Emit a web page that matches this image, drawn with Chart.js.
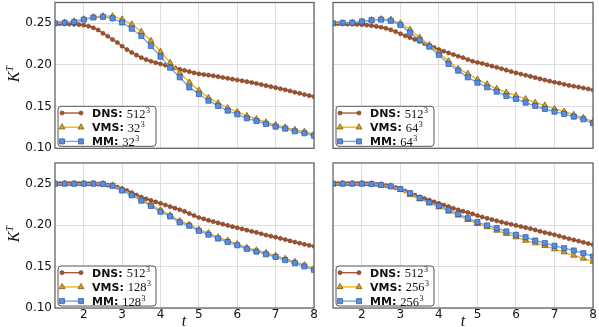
<!DOCTYPE html>
<html>
<head>
<meta charset="utf-8">
<script src="https://cdn.jsdelivr.net/npm/chart.js@4.4.0/dist/chart.umd.min.js"></script>
<style>
  html, body { margin: 0; padding: 0; background: #fff; }
  #wrap { position: relative; width: 599px; height: 327px; overflow: hidden; }
  #wrap canvas { position: absolute; left: -20px; top: -20px; }
  .ylab, .xlab {
    position: absolute;
    font-family: "Liberation Serif", "DejaVu Serif", serif;
    font-style: italic;
    font-size: 16px;
    color: #111;
    text-align: center;
  }
  .ylab { width: 40px; height: 20px; line-height: 20px; transform: rotate(-90deg); }
  .ylab sup, .xlab sup { font-size: 10px; vertical-align: 6px; }
  .xlab { width: 20px; height: 16px; line-height: 16px; }
</style>
</head>
<body>
<div id="wrap">
  <canvas id="panelTL" width="639" height="367"></canvas>
  <canvas id="panelTR" width="639" height="367"></canvas>
  <canvas id="panelBL" width="639" height="367"></canvas>
  <canvas id="panelBR" width="639" height="367"></canvas>
  <div class="ylab" style="left:-10px; top:64px;">K<sup>T</sup></div>
  <div class="ylab" style="left:-10px; top:224px;">K<sup>T</sup></div>
  <div class="xlab" style="left:174px; top:313px;">t</div>
  <div class="xlab" style="left:453px; top:313px;">t</div>
</div>
<script>
// time samples (DNS is stored twice as dense as the LES runs)
const tFine = [1.25, 1.375, 1.5, 1.625, 1.75, 1.875, 2, 2.125, 2.25, 2.375,
  2.5, 2.625, 2.75, 2.875, 3, 3.125, 3.25, 3.375, 3.5, 3.625,
  3.75, 3.875, 4, 4.125, 4.25, 4.375, 4.5, 4.625, 4.75, 4.875,
  5, 5.125, 5.25, 5.375, 5.5, 5.625, 5.75, 5.875, 6, 6.125,
  6.25, 6.375, 6.5, 6.625, 6.75, 6.875, 7, 7.125, 7.25, 7.375,
  7.5, 7.625, 7.75, 7.875, 8];
const tCoarse = [1.25, 1.5, 1.75, 2, 2.25, 2.5, 2.75, 3, 3.25, 3.5,
  3.75, 4, 4.25, 4.5, 4.75, 5, 5.25, 5.5, 5.75, 6,
  6.25, 6.5, 6.75, 7, 7.25, 7.5, 7.75, 8];

const xTicks = [2, 3, 4, 5, 6, 7, 8];
const yTicks = [0.10, 0.15, 0.20, 0.25];

// top left: 32^3
const dnsTL = [0.2500, 0.2497, 0.2494, 0.2491, 0.2488, 0.2484, 0.2478, 0.2465, 0.2446, 0.2420,
  0.2380, 0.2345, 0.2305, 0.2270, 0.2225, 0.2185, 0.2150, 0.2118, 0.2088, 0.2065,
  0.2045, 0.2027, 0.2012, 0.1998, 0.1985, 0.1965, 0.1948, 0.1935, 0.1920, 0.1905,
  0.1893, 0.1885, 0.1878, 0.1870, 0.1860, 0.1850, 0.1840, 0.1830, 0.1820, 0.1810,
  0.1800, 0.1790, 0.1778, 0.1765, 0.1752, 0.1740, 0.1728, 0.1715, 0.1702, 0.1688,
  0.1673, 0.1660, 0.1645, 0.1632, 0.1620];
const vmsTL = [0.2502, 0.2510, 0.2525, 0.2550, 0.2575, 0.2588, 0.2586, 0.2548, 0.2488, 0.2400,
  0.2291, 0.2160, 0.2027, 0.1907, 0.1792, 0.1695, 0.1606, 0.1543, 0.1484, 0.1438,
  0.1390, 0.1352, 0.1313, 0.1282, 0.1252, 0.1224, 0.1200, 0.1172];
const mmTL = [0.2500, 0.2507, 0.2516, 0.2545, 0.2570, 0.2578, 0.2560, 0.2510, 0.2435, 0.2348,
  0.2228, 0.2100, 0.1967, 0.1852, 0.1731, 0.1652, 0.1571, 0.1508, 0.1452, 0.1408,
  0.1360, 0.1328, 0.1292, 0.1260, 0.1236, 0.1204, 0.1180, 0.1151];

// top right: 64^3
const dnsTR = [0.2500, 0.2497, 0.2494, 0.2491, 0.2489, 0.2487, 0.2484, 0.2479, 0.2472, 0.2463,
  0.2453, 0.2440, 0.2422, 0.2400, 0.2375, 0.2350, 0.2328, 0.2307, 0.2283, 0.2257,
  0.2233, 0.2210, 0.2185, 0.2165, 0.2145, 0.2125, 0.2105, 0.2088, 0.2065, 0.2045,
  0.2030, 0.2018, 0.2002, 0.1987, 0.1972, 0.1955, 0.1938, 0.1921, 0.1905, 0.1891,
  0.1877, 0.1863, 0.1848, 0.1833, 0.1820, 0.1806, 0.1793, 0.1782, 0.1768, 0.1755,
  0.1745, 0.1735, 0.1724, 0.1712, 0.1700];
const vmsTR = [0.2500, 0.2503, 0.2508, 0.2522, 0.2540, 0.2550, 0.2545, 0.2500, 0.2425, 0.2330,
  0.2240, 0.2150, 0.2045, 0.1955, 0.1895, 0.1826, 0.1770, 0.1714, 0.1670, 0.1632,
  0.1592, 0.1548, 0.1516, 0.1474, 0.1442, 0.1404, 0.1366, 0.1322];
const mmTR = [0.2500, 0.2506, 0.2508, 0.2522, 0.2538, 0.2545, 0.2530, 0.2480, 0.2388, 0.2300,
  0.2220, 0.2120, 0.2012, 0.1932, 0.1852, 0.1788, 0.1732, 0.1680, 0.1628, 0.1592,
  0.1548, 0.1508, 0.1472, 0.1440, 0.1412, 0.1380, 0.1348, 0.1300];

// bottom left: 128^3
const dnsBL = [0.2500, 0.2500, 0.2500, 0.2500, 0.2500, 0.2500, 0.2500, 0.2499, 0.2498, 0.2495,
  0.2490, 0.2483, 0.2472, 0.2458, 0.2440, 0.2417, 0.2390, 0.2363, 0.2338, 0.2318,
  0.2298, 0.2280, 0.2263, 0.2243, 0.2223, 0.2205, 0.2186, 0.2165, 0.2140, 0.2115,
  0.2092, 0.2075, 0.2058, 0.2042, 0.2027, 0.2012, 0.1996, 0.1982, 0.1968, 0.1954,
  0.1939, 0.1925, 0.1912, 0.1896, 0.1880, 0.1867, 0.1855, 0.1840, 0.1826, 0.1810,
  0.1796, 0.1782, 0.1768, 0.1756, 0.1744];
const vmsBL = [0.2500, 0.2500, 0.2500, 0.2500, 0.2500, 0.2498, 0.2480, 0.2430, 0.2375, 0.2312,
  0.2250, 0.2180, 0.2120, 0.2050, 0.2008, 0.1948, 0.1904, 0.1854, 0.1814, 0.1773,
  0.1727, 0.1697, 0.1667, 0.1632, 0.1595, 0.1558, 0.1518, 0.1478];
const mmBL = [0.2500, 0.2500, 0.2500, 0.2500, 0.2500, 0.2496, 0.2475, 0.2418, 0.2360, 0.2295,
  0.2232, 0.2162, 0.2105, 0.2033, 0.1992, 0.1930, 0.1885, 0.1838, 0.1796, 0.1757,
  0.1712, 0.1680, 0.1648, 0.1616, 0.1578, 0.1542, 0.1502, 0.1460];

// bottom right: 256^3
const dnsBR = [0.2500, 0.2500, 0.2500, 0.2500, 0.2500, 0.2500, 0.2500, 0.2499, 0.2497, 0.2492,
  0.2485, 0.2477, 0.2466, 0.2452, 0.2435, 0.2412, 0.2388, 0.2362, 0.2340, 0.2321,
  0.2302, 0.2282, 0.2262, 0.2243, 0.2224, 0.2204, 0.2185, 0.2168, 0.2152, 0.2135,
  0.2115, 0.2098, 0.2082, 0.2067, 0.2052, 0.2037, 0.2023, 0.2010, 0.1997, 0.1983,
  0.1970, 0.1957, 0.1942, 0.1925, 0.1910, 0.1897, 0.1884, 0.1868, 0.1852, 0.1836,
  0.1822, 0.1808, 0.1793, 0.1778, 0.1763];
const vmsBR = [0.2500, 0.2500, 0.2500, 0.2500, 0.2496, 0.2484, 0.2468, 0.2427, 0.2367, 0.2315,
  0.2267, 0.2218, 0.2166, 0.2118, 0.2065, 0.2017, 0.1977, 0.1936, 0.1896, 0.1856,
  0.1815, 0.1783, 0.1751, 0.1711, 0.1674, 0.1634, 0.1598, 0.1561];
const mmBR = [0.2500, 0.2500, 0.2500, 0.2500, 0.2496, 0.2484, 0.2468, 0.2436, 0.2387, 0.2327,
  0.2274, 0.2234, 0.2186, 0.2134, 0.2085, 0.2037, 0.1997, 0.1964, 0.1924, 0.1884,
  0.1855, 0.1815, 0.1783, 0.1751, 0.1722, 0.1694, 0.1662, 0.1621];

const legendNames = ["DNS", "VMS", "MM"];

const GRID = "#dedede";
const FRAME = "#666";
// canvases are bigger than the page and shifted by this much, so the
// axes never get squeezed by chart.js' own label overflow padding
const OFF = 20;
const CW = 639;
const CH = 367;

const pts = (ts, ys) => ts.map((t, i) => ({ x: t, y: ys[i] }));

// box around the plot area, like the matplotlib axes frame
const framePlugin = {
  id: "frame",
  afterDraw(chart) {
    const a = chart.chartArea;
    const ctx = chart.ctx;
    ctx.save();
    ctx.strokeStyle = FRAME;
    ctx.lineWidth = 1.3;
    ctx.strokeRect(a.left, a.top, a.right - a.left, a.bottom - a.top);
    ctx.restore();
  },
};

// legend box in the lower left corner of each panel
const legendPlugin = {
  id: "panelLegend",
  afterDatasetsDraw(chart, args, opts) {
    const a = chart.chartArea;
    const ctx = chart.ctx;
    const w = 98;
    const h = 40;
    const x0 = a.left + 3;
    const y0 = a.bottom - 2 - h;
    const r = 3;

    ctx.save();
    ctx.beginPath();
    ctx.moveTo(x0 + r, y0);
    ctx.lineTo(x0 + w - r, y0);
    ctx.quadraticCurveTo(x0 + w, y0, x0 + w, y0 + r);
    ctx.lineTo(x0 + w, y0 + h - r);
    ctx.quadraticCurveTo(x0 + w, y0 + h, x0 + w - r, y0 + h);
    ctx.lineTo(x0 + r, y0 + h);
    ctx.quadraticCurveTo(x0, y0 + h, x0, y0 + h - r);
    ctx.lineTo(x0, y0 + r);
    ctx.quadraticCurveTo(x0, y0, x0 + r, y0);
    ctx.closePath();
    ctx.fillStyle = "rgba(255,255,255,0.92)";
    ctx.fill();
    ctx.strokeStyle = "#555";
    ctx.lineWidth = 1;
    ctx.stroke();

    chart.data.datasets.forEach((ds, i) => {
      const cy = y0 + 6.7 + i * 14.2;
      const lx0 = x0 + 4;
      const lx1 = x0 + 23;
      ctx.strokeStyle = ds.borderColor;
      ctx.lineWidth = ds.borderWidth;
      ctx.beginPath();
      ctx.moveTo(lx0, cy);
      ctx.lineTo(lx1, cy);
      ctx.stroke();

      ctx.fillStyle = ds.pointBackgroundColor;
      ctx.strokeStyle = ds.pointBorderColor;
      ctx.lineWidth = ds.pointBorderWidth;
      const style = { pointStyle: ds.pointStyle, radius: ds.pointRadius, borderWidth: ds.pointBorderWidth, rotation: 0 };
      Chart.helpers.drawPoint(ctx, style, lx0, cy);
      Chart.helpers.drawPoint(ctx, style, lx1, cy);

      ctx.fillStyle = "#111";
      ctx.textBaseline = "alphabetic";
      ctx.font = "bold 11px 'DejaVu Sans'";
      const name = legendNames[i] + ":";
      const tx = x0 + 34;
      ctx.fillText(name, tx, cy + 4);
      const nx = tx + ctx.measureText(name).width + 4;
      ctx.font = "12.5px 'Liberation Serif'";
      const res = String(opts.res[i]);
      ctx.fillText(res, nx, cy + 4.5);
      const sx = nx + ctx.measureText(res).width + 0.5;
      ctx.font = "8px 'Liberation Serif'";
      ctx.fillText("3", sx, cy - 0.5);
    });
    ctx.restore();
  },
};

const createPanel = (id, area, dns, vms, mm, res, showY, showX) => {
  const ctx = document.getElementById(id).getContext("2d");
  const yAxisWidth = showY ? 40 : 0;
  const xAxisHeight = 16;

  return new Chart(ctx, {
    type: "line",
    data: {
      datasets: [
        {
          label: "DNS",
          data: pts(tFine, dns),
          borderColor: "#a4502c",
          borderWidth: 1.3,
          pointStyle: "circle",
          pointRadius: 2.1,
          pointBackgroundColor: "#a0522d",
          pointBorderColor: "#6e3418",
          pointBorderWidth: 0.5,
          tension: 0,
          order: 3,
        },
        {
          label: "VMS",
          data: pts(tCoarse, vms),
          borderColor: "#f0b418",
          borderWidth: 1.4,
          pointStyle: "triangle",
          pointRadius: 3.5,
          pointBackgroundColor: "#d3a024",
          pointBorderColor: "#6d5210",
          pointBorderWidth: 0.7,
          tension: 0,
          order: 2,
        },
        {
          label: "MM",
          data: pts(tCoarse, mm),
          borderColor: "#72a6ee",
          borderWidth: 1.4,
          pointStyle: "rect",
          pointRadius: 3.6,
          pointBackgroundColor: "#5a8de0",
          pointBorderColor: "#2d559c",
          pointBorderWidth: 0.7,
          tension: 0,
          order: 1,
        },
      ],
    },
    options: {
      responsive: false,
      animation: false,
      events: [],
      layout: {
        padding: {
          left: area.left + OFF - yAxisWidth,
          right: CW - (area.right + OFF),
          top: area.top + OFF,
          bottom: CH - (area.bottom + OFF) - xAxisHeight,
        },
      },
      plugins: {
        legend: { display: false },
        tooltip: { enabled: false },
        panelLegend: { res: res },
      },
      scales: {
        x: {
          type: "linear",
          min: 1.25,
          max: 8,
          afterBuildTicks: (s) => {
            s.ticks = xTicks.map((v) => ({ value: v }));
          },
          afterFit: (s) => {
            s.height = xAxisHeight;
          },
          grid: { color: GRID, lineWidth: 1, drawTicks: false },
          border: { display: false },
          ticks: {
            display: showX,
            autoSkip: false,
            maxRotation: 0,
            padding: 0,
            color: "#111",
            font: { family: "'DejaVu Sans'", size: 12 },
            callback: (v) => String(v),
          },
        },
        y: {
          min: 0.1,
          max: 0.275,
          afterBuildTicks: (s) => {
            s.ticks = yTicks.map((v) => ({ value: v }));
          },
          afterFit: (s) => {
            s.width = yAxisWidth;
          },
          grid: { color: GRID, lineWidth: 1, drawTicks: false },
          border: { display: false },
          ticks: {
            display: showY,
            padding: 3,
            color: "#111",
            font: { family: "'DejaVu Sans'", size: 12 },
            callback: (v) => v.toFixed(2),
          },
        },
      },
    },
    plugins: [legendPlugin, framePlugin],
  });
};

createPanel("panelTL", { left: 55, right: 314, top: 2.5, bottom: 148.3 }, dnsTL, vmsTL, mmTL, [512, 32, 32], true, false);
createPanel("panelTR", { left: 333, right: 593, top: 2.5, bottom: 148.3 }, dnsTR, vmsTR, mmTR, [512, 64, 64], false, false);
createPanel("panelBL", { left: 55, right: 314, top: 163, bottom: 308 }, dnsBL, vmsBL, mmBL, [512, 128, 128], true, true);
createPanel("panelBR", { left: 333, right: 593, top: 163, bottom: 308 }, dnsBR, vmsBR, mmBR, [512, 256, 256], false, true);
</script>
</body>
</html>
